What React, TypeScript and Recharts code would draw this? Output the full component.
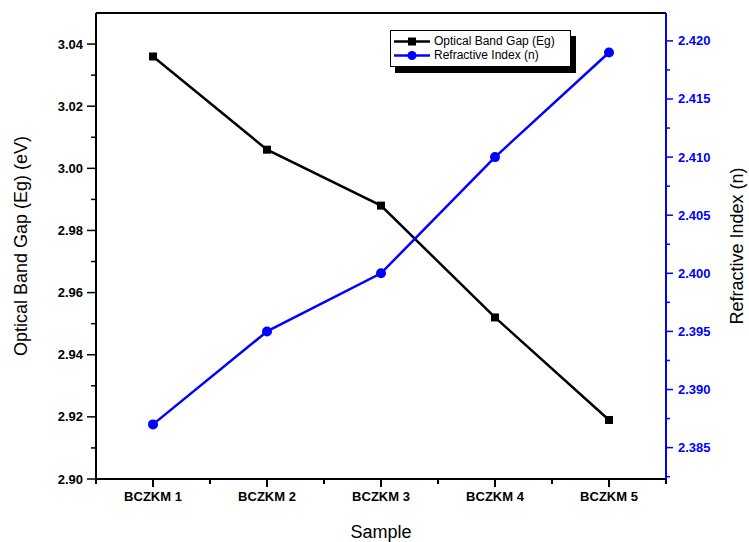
import React from "react";
import { LineChart, Line, XAxis, YAxis, Legend, ReferenceLine } from "recharts";

const samples = ["BCZKM 1", "BCZKM 2", "BCZKM 3", "BCZKM 4", "BCZKM 5"];
const bandGap = [3.036, 3.006, 2.988, 2.952, 2.919];
const refractiveIndex = [2.387, 2.395, 2.4, 2.41, 2.419];

const leftTicks = [2.9, 2.91, 2.92, 2.93, 2.94, 2.95, 2.96, 2.97, 2.98, 2.99, 3.0, 3.01, 3.02, 3.03, 3.04];
const rightTicks = [
  2.3825, 2.385, 2.3875, 2.39, 2.3925, 2.395, 2.3975, 2.4, 2.4025, 2.405, 2.4075, 2.41, 2.4125, 2.415, 2.4175, 2.42,
];

const data = samples.map((s, i) => ({ sample: s, eg: bandGap[i], n: refractiveIndex[i] }));

const FONT = "'Liberation Sans', Arial, sans-serif";
const BLUE = "#0000FF";

const LeftTick = (props: any) => {
  const { x, y, payload } = props;
  const v = payload.value;
  const major = Math.round(v * 100) % 2 === 0;
  return (
    <g>
      <line x1={x - (major ? 9 : 5)} x2={x} y1={y} y2={y} stroke="#000" strokeWidth={1.5} />
      {major && (
        <text x={x - 13} y={y} textAnchor="end" dominantBaseline="central" fontFamily={FONT} fontWeight="bold" fontSize={13} fill="#000">
          {v.toFixed(2)}
        </text>
      )}
    </g>
  );
};

const RightTick = (props: any) => {
  const { x, y, payload } = props;
  const v = payload.value;
  const major = Math.round(v * 10000) % 50 === 0;
  return (
    <g>
      <line x1={x} x2={x + (major ? 7 : 4)} y1={y} y2={y} stroke={BLUE} strokeWidth={1.5} />
      {major && (
        <text x={x + 12} y={y} textAnchor="start" dominantBaseline="central" fontFamily={FONT} fontWeight="bold" fontSize={13} fill={BLUE}>
          {v.toFixed(3)}
        </text>
      )}
    </g>
  );
};

// category tick: major mark at the band centre, minor marks at the band edges
const SampleTick = (props: any) => {
  const { x, y, payload, width, visibleTicksCount, index } = props;
  const half = Number(width) / Number(visibleTicksCount) / 2;
  const ok = Number.isFinite(half) && half > 0;
  return (
    <g>
      <rect x={x - 1} y={y} width={2} height={8} fill="#000" />
      {ok && <rect x={x - half - 1} y={y} width={2} height={5} fill="#000" />}
      {ok && index === visibleTicksCount - 1 && <rect x={x + half - 1} y={y} width={2} height={5} fill="#000" />}
      <text x={x} y={y + 13} dy="0.71em" textAnchor="middle" fontFamily={FONT} fontWeight="bold" fontSize={13} fill="#000">
        {payload.value}
      </text>
    </g>
  );
};

const SquareDot = (props: any) => {
  const { cx, cy } = props;
  return <rect key={`sq-${cx}`} x={cx - 4} y={cy - 4} width={8} height={8} fill="#000" />;
};

const legendItems = [
  { label: "Optical Band Gap (Eg)", color: "#000", shape: "square" },
  { label: "Refractive Index (n)", color: BLUE, shape: "circle" },
];

const renderLegend = () => (
  <div
    style={{
      background: "#fff",
      border: "1px solid #000",
      boxShadow: "5px 6px 0 #000",
      padding: "3px 6px 4px 2px",
      fontFamily: FONT,
      fontSize: 12,
      lineHeight: "14px",
      width: 181,
      boxSizing: "border-box",
      whiteSpace: "nowrap",
    }}
  >
    {legendItems.map((it) => (
      <div key={it.label} style={{ display: "flex", alignItems: "center" }}>
        <svg width={38} height={13} style={{ marginRight: 3, flexShrink: 0 }}>
          <line x1={1} x2={37} y1={6.5} y2={6.5} stroke={it.color} strokeWidth={2.5} />
          {it.shape === "square" ? (
            <rect x={15} y={2.5} width={8} height={8} fill={it.color} />
          ) : (
            <circle cx={19} cy={6.5} r={4.5} fill={it.color} />
          )}
        </svg>
        <span>{it.label}</span>
      </div>
    ))}
  </div>
);

export default function App() {
  return (
    <div style={{ position: "absolute", left: 0, top: 0, background: "#fff" }}>
      <LineChart width={749} height={542} data={data} margin={{ top: 13, right: 0, bottom: 0, left: 0 }}>
        <XAxis
          dataKey="sample"
          scale="band"
          height={63}
          interval={0}
          axisLine={{ stroke: "#000", strokeWidth: 2 }}
          tickLine={false}
          tickSize={0}
          tickMargin={0}
          tick={<SampleTick />}
          label={{ value: "Sample", position: "insideBottom", offset: 4, style: { fontFamily: FONT, fontSize: 18, fill: "#000" } }}
        />
        <YAxis
          yAxisId="left"
          width={96}
          domain={[2.9, 3.05]}
          ticks={leftTicks}
          interval={0}
          allowDataOverflow
          tickSize={0}
          tickMargin={0}
          tickLine={false}
          axisLine={{ stroke: "#000", strokeWidth: 2 }}
          tick={<LeftTick />}
          label={{
            value: "Optical Band Gap (Eg) (eV)",
            angle: -90,
            position: "insideLeft",
            offset: 21,
            style: { fontFamily: FONT, fontSize: 18, fill: "#000", textAnchor: "middle" },
          }}
        />
        <YAxis
          yAxisId="right"
          orientation="right"
          width={83}
          domain={[2.3823, 2.4224]}
          ticks={rightTicks}
          interval={0}
          allowDataOverflow
          tickSize={0}
          tickMargin={0}
          tickLine={false}
          axisLine={{ stroke: BLUE, strokeWidth: 2 }}
          tick={<RightTick />}
          label={{
            value: "Refractive Index (n)",
            angle: -90,
            position: "insideRight",
            offset: 12,
            style: { fontFamily: FONT, fontSize: 18, fill: "#000", textAnchor: "middle" },
          }}
        />
        <ReferenceLine yAxisId="left" y={3.05} stroke="#000" strokeWidth={2} ifOverflow="extendDomain" />
        <Legend
          layout="vertical"
          verticalAlign="middle"
          align="center"
          content={renderLegend}
          wrapperStyle={{ position: "absolute", left: 390, top: 30, width: "auto" }}
        />
        <Line
          yAxisId="left"
          dataKey="eg"
          stroke="#000"
          strokeWidth={2.5}
          dot={<SquareDot />}
          isAnimationActive={false}
        />
        <Line
          yAxisId="right"
          dataKey="n"
          stroke={BLUE}
          strokeWidth={2.5}
          dot={{ r: 5, fill: BLUE, stroke: BLUE, strokeWidth: 0 }}
          isAnimationActive={false}
        />
      </LineChart>
    </div>
  );
}
